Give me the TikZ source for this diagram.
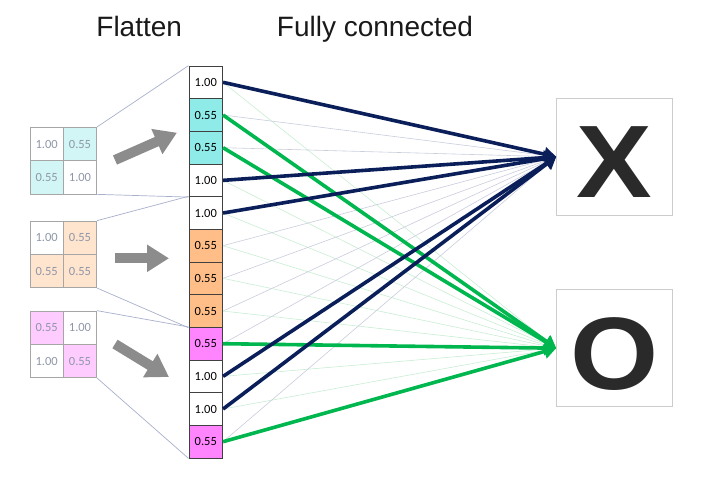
\documentclass[tikz,border=0pt]{standalone}
\usepackage{fontspec}
\setmainfont{Liberation Sans}
\newfontfamily\cellfont{Carlito}
\newfontfamily\letterfont[FakeStretch=1.1]{Liberation Sans}
\usetikzlibrary{arrows.meta}
\definecolor{cellcyan}{HTML}{8EEBE8}
\definecolor{cellorange}{HTML}{FFBE88}
\definecolor{cellpink}{HTML}{FF85FF}
\definecolor{gridcyan}{HTML}{D2F6F5}
\definecolor{gridorange}{HTML}{FFE4CE}
\definecolor{gridpink}{HTML}{FFCCFF}
\definecolor{navyline}{HTML}{0A1E5A}
\definecolor{greenline}{HTML}{00B64E}
\definecolor{thinnavy}{HTML}{C9CDDC}
\definecolor{thingreen}{HTML}{C8EDD4}
\definecolor{projline}{HTML}{A8AFCB}
\definecolor{arrowgray}{HTML}{8C8C8C}
\definecolor{gridtext}{HTML}{8E96A8}
\definecolor{lettergray}{HTML}{2A2A2A}

\begin{document}
\begin{tikzpicture}[x=1pt, y=-1pt,
  flatcell/.style={draw=black!75, line width=0.8pt, minimum width=33.7pt, minimum height=32.67pt, inner sep=0pt, font=\cellfont\fontsize{12.5}{13}\selectfont},
  gridcell/.style={draw=black!35, line width=0.8pt, minimum size=33.3pt, inner sep=0pt, text=gridtext, font=\cellfont\fontsize{12.5}{13}\selectfont},
  outbox/.style={draw=black!20, line width=1pt, minimum width=115.6pt, minimum height=116.5pt, inner sep=0pt, text=lettergray, font=\letterfont\bfseries\fontsize{103}{103}\selectfont, text height=82pt, text depth=0pt},
  weak/.style={line width=0.6pt},
  strong/.style={line width=3.6pt, -{Triangle[length=12pt,width=14pt]}},
  flowarrow/.style={arrowgray, line width=10pt, -{Triangle[length=22pt,width=26pt]}}
]
\useasboundingbox (0,0) rectangle (716,477);

% Titles
\node[anchor=base, font=\fontsize{28}{30}\selectfont, text=black!90] (flattenTitle) at (139.2,36.7) {Flatten};
\node[anchor=base, font=\fontsize{28}{30}\selectfont, text=black!90] (fcTitle) at (375,36.7) {Fully connected};

% Flattened column
\foreach \i/\c/\v in {1/white/1.00, 2/cellcyan/0.55, 3/cellcyan/0.55, 4/white/1.00,
                      5/white/1.00, 6/cellorange/0.55, 7/cellorange/0.55, 8/cellorange/0.55,
                      9/cellpink/0.55, 10/white/1.00, 11/white/1.00, 12/cellpink/0.55} {
    \node[flatcell, fill=\c] (cell\i) at (205.8, 49.67+32.67*\i) {\v};
}

% Input grids
\node[gridcell, fill=white] (grid1a) at (46.7,144) {1.00};
\node[gridcell, fill=gridcyan] (grid1b) at (80,144) {0.55};
\node[gridcell, fill=gridcyan] (grid1c) at (46.7,177.3) {0.55};
\node[gridcell, fill=white] (grid1d) at (80,177.3) {1.00};

\node[gridcell, fill=white] (grid2a) at (46.7,237.7) {1.00};
\node[gridcell, fill=gridorange] (grid2b) at (80,237.7) {0.55};
\node[gridcell, fill=gridorange] (grid2c) at (46.7,271) {0.55};
\node[gridcell, fill=gridorange] (grid2d) at (80,271) {0.55};

\node[gridcell, fill=gridpink] (grid3a) at (46.7,327.7) {0.55};
\node[gridcell, fill=white] (grid3b) at (80,327.7) {1.00};
\node[gridcell, fill=white] (grid3c) at (46.7,361) {1.00};
\node[gridcell, fill=gridpink] (grid3d) at (80,361) {0.55};

% Projection lines
\draw[projline, line width=0.7pt] (grid1b.north east) -- (cell1.north west);
\draw[projline, line width=0.7pt] (grid1d.south east) -- (cell4.south west);
\draw[projline, line width=0.7pt] (grid2b.north east) -- (cell5.north west);
\draw[projline, line width=0.7pt] (grid2d.south east) -- (cell8.south west);
\draw[projline, line width=0.7pt] (grid3b.north east) -- (cell9.north west);
\draw[projline, line width=0.7pt] (grid3d.south east) -- (cell12.south west);

% Flatten arrows
\draw[flowarrow] (115,160) -- (177,132.7);
\draw[flowarrow] (115,258.3) -- (169,258.3);
\draw[flowarrow] (115,344) -- (169,377);

% Outputs
\node[outbox] (outX) at (614.5,156.8) {X};
\node[outbox] (outO) at (614.5,348.2) {O};

% Weak connections
\foreach \i in {1,...,12} {
    \draw[weak, thinnavy] (cell\i.east) -- (outX.west);
    \draw[weak, thingreen] (cell\i.east) -- (outO.west);
}

% Strong connections
\foreach \i in {2,3,9,12} \draw[strong, greenline] (cell\i.east) -- (outO.west);
\foreach \i in {1,4,5,10,11} \draw[strong, navyline] (cell\i.east) -- (outX.west);

\end{tikzpicture}
\end{document}
